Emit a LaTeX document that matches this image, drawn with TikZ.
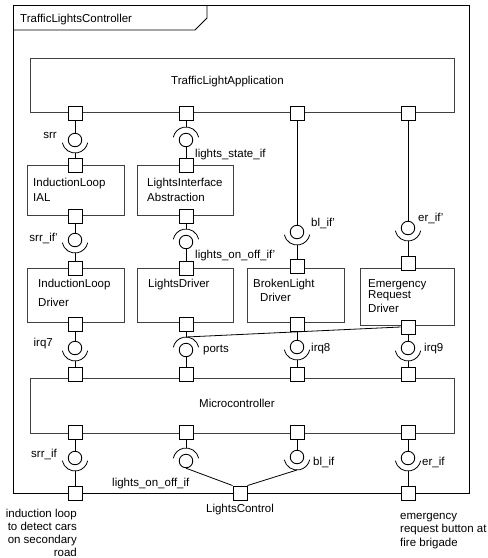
\documentclass[tikz,border=0pt]{standalone}
\usepackage{fontspec}
\setmainfont{Liberation Sans}
\usetikzlibrary{calc}
\newcommand\ifbelow[3]{%
  \draw[conn] (#2.south) -- (#1.north);
  \draw[conn] ([shift={(192:13pt)}]#1.center) arc[start angle=192,end angle=348,radius=13pt];
  \coordinate (#1s) at ([yshift=-13pt]#1.center);
  \draw[conn] (#1s) -- (#3.north);}
\newcommand\ifabove[3]{%
  \coordinate (#1s) at ([yshift=13pt]#1.center);
  \draw[conn] (#2.south) -- (#1s);
  \draw[conn] ([shift={(12:13pt)}]#1.center) arc[start angle=12,end angle=168,radius=13pt];
  \draw[conn] (#1.south) -- (#3.north);}
\begin{document}
\begin{tikzpicture}[x=1pt,y=-1pt,
  every node/.style={font=\fontsize{11.5}{13.5}\selectfont},
  port/.style={draw=black, fill=white, rectangle, minimum size=14pt, inner sep=0pt, line width=0.9pt},
  ball/.style={draw=black, circle, minimum size=13.5pt, inner sep=0pt, line width=0.9pt},
  boxn/.style={draw=black!75, rectangle, inner sep=0pt, anchor=north west, line width=0.9pt},
  conn/.style={draw=black, line width=0.8pt},
  txt/.style={inner sep=0pt, anchor=base west},
  txtr/.style={inner sep=0pt, anchor=base east, align=right},
  txtc/.style={inner sep=0pt, anchor=base}]
\useasboundingbox (0,0) rectangle (488,558);
% outer frame
\node[boxn, draw=black, minimum width=456pt, minimum height=488pt] (frame) at (13,5) {};
\draw[line width=0.9pt] (13,30) -- (195,30) -- (207,18) -- (207,5);
\node[txt] (ftitle) at (20,22) {TrafficLightsController};
% boxes
\node[boxn, minimum width=424pt, minimum height=54pt] (app) at (30,58) {};
\node[txt] (appt) at (171,84) {TrafficLightApplication};
\node[boxn, minimum width=97pt, minimum height=50pt] (ial) at (27,165) {};
\node[txt] (ialt1) at (33,186) {InductionLoop};
\node[txt] (ialt2) at (33,201) {IAL};
\node[boxn, minimum width=96pt, minimum height=50pt] (lia) at (137,165) {};
\node[txt] (liat1) at (147,186) {LightsInterface};
\node[txt] (liat2) at (147,201) {Abstraction};
\node[boxn, minimum width=97pt, minimum height=54pt] (ild) at (27,268) {};
\node[txt] (ildt1) at (38,287) {InductionLoop};
\node[txt] (ildt2) at (38,306) {Driver};
\node[boxn, minimum width=96pt, minimum height=54pt] (ld) at (137,268) {};
\node[txt] (ldt1) at (148,287) {LightsDriver};
\node[boxn, minimum width=97pt, minimum height=54pt] (bld) at (247,268) {};
\node[txt] (bldt1) at (253,287) {BrokenLight};
\node[txt] (bldt2) at (260,301) {Driver};
\node[boxn, minimum width=94pt, minimum height=57pt] (erd) at (360,268) {};
\node[txt] (erdt1) at (368,287) {Emergency};
\node[txt] (erdt2) at (368,298) {Request};
\node[txt] (erdt3) at (368,312) {Driver};
\node[boxn, minimum width=424pt, minimum height=55pt] (mc) at (30,378) {};
\node[txt] (mct) at (199,407) {Microcontroller};
% ports
\node[port] (ap1) at (75,113) {};
\node[port] (ap2) at (186,113) {};
\node[port] (ap3) at (297,113) {};
\node[port] (ap4) at (408,113) {};
\node[port] (ialp1) at (75,165) {};
\node[port] (ialp2) at (75,216) {};
\node[port] (liap1) at (186,165) {};
\node[port] (liap2) at (186,216) {};
\node[port] (ildp1) at (75,268) {};
\node[port] (ildp2) at (75,324) {};
\node[port] (ldp1) at (186,268) {};
\node[port] (ldp2) at (186,324) {};
\node[port] (bldp1) at (297,266) {};
\node[port] (bldp2) at (297,324) {};
\node[port] (erdp1) at (408,263) {};
\node[port] (erdp2) at (408,327) {};
\node[port] (mcp1) at (75,374) {};
\node[port] (mcp2) at (186,374) {};
\node[port] (mcp3) at (297,374) {};
\node[port] (mcp4) at (408,374) {};
\node[port] (mcq1) at (75,432) {};
\node[port] (mcq2) at (186,432) {};
\node[port] (mcq3) at (297,432) {};
\node[port] (mcq4) at (408,432) {};
\node[port] (fp1) at (75,493) {};
\node[port] (lc) at (240,493) {};
\node[port] (fp4) at (408,493) {};
% balls
\node[ball] (ba) at (75,140) {};
\node[ball] (bb) at (186,140) {};
\node[ball] (bc) at (75,240) {};
\node[ball] (bd) at (186,242) {};
\node[ball] (be) at (297,232) {};
\node[ball] (bf) at (408,228) {};
\node[ball] (bg) at (75,348) {};
\node[ball] (bh) at (186,350) {};
\node[ball] (bi) at (297,347) {};
\node[ball] (bj) at (408,348) {};
\node[ball] (bk) at (75,458) {};
\node[ball] (bl) at (186,461) {};
\node[ball] (bm) at (297,457) {};
\node[ball] (bn) at (408,458) {};
% interfaces
\ifbelow{ba}{ap1}{ialp1}
\ifabove{bb}{ap2}{liap1}
\ifbelow{bc}{ialp2}{ildp1}
\ifabove{bd}{liap2}{ldp1}
\ifbelow{be}{ap3}{bldp1}
\ifbelow{bf}{ap4}{erdp1}
\ifbelow{bg}{ildp2}{mcp1}
\ifabove{bh}{ldp2}{mcp2}
\ifbelow{bi}{bldp2}{mcp3}
\ifbelow{bj}{erdp2}{mcp4}
\ifbelow{bk}{mcq1}{fp1}
% lights_on_off_if
\coordinate (bls) at ([yshift=13pt]bl.center);
\draw[conn] (mcq2.south) -- (bls);
\draw[conn] ([shift={(12:13pt)}]bl.center) arc[start angle=12,end angle=168,radius=13pt];
\draw[conn] (bl.south) -- (lc.north west);
% bl_if
\draw[conn] (mcq3.south) -- (bm.north);
\draw[conn] ([shift={(192:13pt)}]bm.center) arc[start angle=192,end angle=348,radius=13pt];
\coordinate (bms) at ([yshift=-13pt]bm.center);
\draw[conn] (bms) -- (lc.north east);
\ifbelow{bn}{mcq4}{fp4}
% ports link
\draw[conn] (bhs) -- (erdp2.west);
% labels
\node[txtr] (l1) at (57,138) {srr};
\node[txt] (l2) at (195,157) {lights\_state\_if};
\node[txtr] (l3) at (58,241) {srr\_if'};
\node[txt] (l4) at (195,258) {lights\_on\_off\_if'};
\node[txt] (l5) at (311,226) {bl\_if'};
\node[txt] (l6) at (418,221) {er\_if'};
\node[txtr] (l7) at (53,346) {irq7};
\node[txt] (l8) at (203,352) {ports};
\node[txt] (l9) at (311,351) {irq8};
\node[txt] (l10) at (424,351) {irq9};
\node[txtr] (l11) at (57,457) {srr\_if};
\node[txt] (l12) at (112,486) {lights\_on\_off\_if};
\node[txt] (l13) at (313,465) {bl\_if};
\node[txt] (l14) at (422,465) {er\_if};
\node[txtc] (l15) at (240,512) {LightsControl};
\node[txtr] (t1a) at (77,517) {induction loop};
\node[txtr] (t1b) at (77,530) {to detect cars};
\node[txtr] (t1c) at (77,543) {on secondary};
\node[txtr] (t1d) at (77,556) {road};
\node[txt] (t2a) at (400,519) {emergency};
\node[txt] (t2b) at (400,532) {request button at};
\node[txt] (t2c) at (400,546) {fire brigade};
\end{tikzpicture}
\end{document}
